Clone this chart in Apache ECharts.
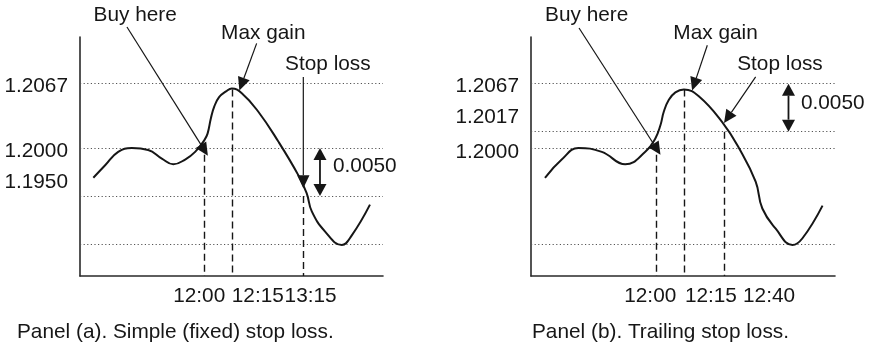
<!DOCTYPE html>
<html><head><meta charset="utf-8">
<script src="https://cdn.jsdelivr.net/npm/echarts@6/dist/echarts.min.js"></script>
<style>html,body{margin:0;padding:0;background:#fff}#c{width:869px;height:346px}</style>
</head><body><div id="c"></div>
<script>
// ---------- Panel (a): simple (fixed) stop loss ----------
const tA = [4.4, 8.3, 12.6, 17.1, 22.5, 27.0, 30.8, 34.7, 38.0, 41.0, 42.1, 43.2, 44.3, 45.9, 48.2, 50.1, 53.4, 58.8, 65.4, 72.0, 74.8, 76.5, 80.9, 86.4, 89.7, 95.7];
const priceA = [1.1969, 1.1982, 1.1996, 1.2000, 1.1998, 1.1989, 1.1983, 1.1988, 1.1996, 1.2008, 1.2015, 1.2031, 1.2043, 1.2053, 1.2059, 1.2062, 1.2057, 1.2038, 1.2007, 1.1972, 1.1953, 1.1934, 1.1913, 1.1899, 1.1909, 1.1941];
const levelsA = [1.2067, 1.2000, 1.1950, 1.1900];
const tickValuesA = [1.2067, 1.2000, 1.1950];
const tickLabelsA = ['1.2067', '1.2000', '1.1950'];
const eventTimeA = [41.0, 50.1, 73.8];
const eventPriceA = [1.1993, 1.2061, 1.1950];
const timeLabelsA = ['12:00', '12:15', '13:15'];
const calloutTextA = ['Buy here', 'Max gain', 'Stop loss'];
const calloutFromA = [[15.5, 1.2126], [58.3, 1.2109], [73.7, 1.2074]];
const calloutToA = [[42.2, 1.1992], [52.6, 1.2060], [73.7, 1.1958]];
const calloutAtA = [[18.2, 1.2138], [60.5, 1.2120], [81.8, 1.2087]];
const gapA = [79.2, 1.2000, 1.1950];
const gapAtA = [83.5, 1.1981];
const gapTextA = '0.0050';
const captionA = 'Panel (a). Simple (fixed) stop loss.';

// ---------- Panel (b): trailing stop loss ----------
const tB = [4.6, 10.1, 15.6, 23.3, 31.0, 37.6, 40.9, 42.6, 43.7, 45.3, 47.5, 50.3, 55.2, 62.9, 68.4, 73.9, 76.1, 80.5, 86.0, 89.3, 95.9];
const priceB = [1.1969, 1.1988, 1.2000, 1.1996, 1.1983, 1.1996, 1.2010, 1.2024, 1.2038, 1.2050, 1.2058, 1.2061, 1.2054, 1.2027, 1.2000, 1.1965, 1.1937, 1.1916, 1.1899, 1.1906, 1.1940];
const levelsB = [1.2067, 1.2017, 1.2000, 1.1900];
const tickValuesB = [1.2067, 1.2017, 1.2000];
const tickLabelsB = ['1.2067', '1.2017', '1.2000'];
const eventTimeB = [41.2, 50.3, 63.5];
const eventPriceB = [1.1993, 1.2061, 1.2017];
const timeLabelsB = ['12:00', '12:15', '12:40'];
const calloutTextB = ['Buy here', 'Max gain', 'Stop loss'];
const calloutFromB = [[15.8, 1.2125], [58.0, 1.2107], [73.9, 1.2074]];
const calloutToB = [[42.6, 1.1993], [53.0, 1.2060], [63.5, 1.2026]];
const calloutAtB = [[18.3, 1.2138], [60.7, 1.2120], [81.9, 1.2087]];
const gapB = [84.7, 1.2067, 1.2017];
const gapAtB = [88.8, 1.2047];
const gapTextB = '0.0050';
const captionB = 'Panel (b). Trailing stop loss.';

// ---------- styling / layout ----------
const FONT = '"Liberation Sans", Arial, Helvetica, sans-serif';
const FS = 20.8;
const INK = '#161616';
const Y_MIN = 1.18667, Y_MAX = 1.21156;
const X_MIN = 0, X_MAX = 100;
// label nudges (px) to mimic the original typesetting
const yShiftA = [3, 3, -14], yShiftB = [3, -14, 4];
const xShiftA = [-5, 26, 7], xShiftB = [-6, 27, 45];

function richH(shifts) {
  const r = {};
  shifts.forEach((d, i) => {
    r['s' + i] = { fontSize: FS, fontFamily: FONT, color: INK,
      padding: d >= 0 ? [0, 0, 0, 2 * d] : [0, -2 * d, 0, 0] };
  });
  return r;
}
function richV(shifts) {
  const r = {};
  shifts.forEach((d, i) => {
    r['s' + i] = { fontSize: FS, fontFamily: FONT, color: INK,
      padding: d >= 0 ? [2 * d, 0, 0, 0] : [0, 0, -2 * d, 0] };
  });
  return r;
}
function idxOf(arr, v) { return arr.findIndex(a => Math.abs(a - v) < 1e-7); }

function xAxisFor(gi, times, labels, shifts) {
  return {
    type: 'value', gridIndex: gi, min: X_MIN, max: X_MAX,
    axisLine: { show: true, onZero: false, lineStyle: { color: '#2a2a2a', width: 1.6 } },
    axisTick: { show: false }, splitLine: { show: false },
    axisLabel: {
      show: true, customValues: times, margin: 10,
      formatter: v => { const i = idxOf(times, v); return '{s' + i + '|' + labels[i] + '}'; },
      rich: richH(shifts)
    }
  };
}
function yAxisFor(gi, values, labels, shifts) {
  return {
    type: 'value', gridIndex: gi, min: Y_MIN, max: Y_MAX,
    axisLine: { show: true, lineStyle: { color: '#2a2a2a', width: 1.6 } },
    axisTick: { show: false }, splitLine: { show: false },
    axisLabel: {
      show: true, customValues: values, margin: 12,
      formatter: v => { const i = idxOf(values, v); return '{s' + i + '|' + labels[i] + '}'; },
      rich: richV(shifts)
    }
  };
}

function curveSeries(gi, t, p, levels, evT, evP) {
  const ml = [];
  levels.forEach(v => ml.push({ yAxis: v, lineStyle: { type: [1.2, 2.4], color: '#555', width: 1 } }));
  evT.forEach((x, i) => ml.push([
    { coord: [x, evP[i]], lineStyle: { type: [7, 4], color: INK, width: 1.4 } },
    { coord: [x, Y_MIN] }
  ]));
  return {
    type: 'line', xAxisIndex: gi, yAxisIndex: gi,
    data: t.map((x, i) => [x, p[i]]),
    smooth: 0.45, showSymbol: false, symbol: 'none', silent: true,
    lineStyle: { color: INK, width: 2 }, z: 3,
    markLine: { silent: true, symbol: 'none', precision: 8, label: { show: false }, animation: false, data: ml, z: 2 }
  };
}

function calloutSeries(gi, from, to, at, texts) {
  return {
    type: 'custom', xAxisIndex: gi, yAxisIndex: gi, clip: false, silent: true, z: 5,
    data: from.map((f, i) => [f[0], f[1], to[i][0], to[i][1], at[i][0], at[i][1]]),
    renderItem(params, api) {
      const p0 = api.coord([api.value(0), api.value(1)]);
      const p1 = api.coord([api.value(2), api.value(3)]);
      const pl = api.coord([api.value(4), api.value(5)]);
      const dx = p1[0] - p0[0], dy = p1[1] - p0[1], len = Math.hypot(dx, dy);
      const ux = dx / len, uy = dy / len, L = 13, W = 6.2;
      const bx = p1[0] - ux * L, by = p1[1] - uy * L;
      return { type: 'group', children: [
        { type: 'line', shape: { x1: p0[0], y1: p0[1], x2: bx, y2: by }, style: { stroke: INK, lineWidth: 1.2 } },
        { type: 'polygon', shape: { points: [[p1[0], p1[1]], [bx - uy * W, by + ux * W], [bx + uy * W, by - ux * W]] }, style: { fill: INK } },
        { type: 'text', x: pl[0], y: pl[1], style: { text: texts[params.dataIndex], fill: INK, fontSize: FS, fontFamily: FONT, align: 'center', verticalAlign: 'middle' } }
      ] };
    }
  };
}

function gapSeries(gi, gap, at, text) {
  return {
    type: 'custom', xAxisIndex: gi, yAxisIndex: gi, clip: false, silent: true, z: 5,
    data: [[gap[0], gap[1], gap[2], at[0], at[1]]],
    renderItem(params, api) {
      const a = api.coord([api.value(0), api.value(1)]);
      const b = api.coord([api.value(0), api.value(2)]);
      const l = api.coord([api.value(3), api.value(4)]);
      const L = 12, W = 6.5;
      return { type: 'group', children: [
        { type: 'line', shape: { x1: a[0], y1: a[1] + L, x2: b[0], y2: b[1] - L }, style: { stroke: INK, lineWidth: 1.8 } },
        { type: 'polygon', shape: { points: [[a[0], a[1]], [a[0] - W, a[1] + L], [a[0] + W, a[1] + L]] }, style: { fill: INK } },
        { type: 'polygon', shape: { points: [[b[0], b[1]], [b[0] - W, b[1] - L], [b[0] + W, b[1] - L]] }, style: { fill: INK } },
        { type: 'text', x: l[0], y: l[1], style: { text: text, fill: INK, fontSize: FS, fontFamily: FONT, align: 'left', verticalAlign: 'middle' } }
      ] };
    }
  };
}

const chart = echarts.init(document.getElementById('c'), null, { renderer: 'canvas' });
chart.setOption({
  animation: false,
  backgroundColor: '#fff',
  textStyle: { fontFamily: FONT, color: INK },
  grid: [
    { left: 80, top: 37, width: 303, height: 239, containLabel: false },
    { left: 531, top: 37, width: 304, height: 239, containLabel: false }
  ],
  xAxis: [xAxisFor(0, eventTimeA, timeLabelsA, xShiftA), xAxisFor(1, eventTimeB, timeLabelsB, xShiftB)],
  yAxis: [yAxisFor(0, tickValuesA, tickLabelsA, yShiftA), yAxisFor(1, tickValuesB, tickLabelsB, yShiftB)],
  series: [
    curveSeries(0, tA, priceA, levelsA, eventTimeA, eventPriceA),
    calloutSeries(0, calloutFromA, calloutToA, calloutAtA, calloutTextA),
    gapSeries(0, gapA, gapAtA, gapTextA),
    curveSeries(1, tB, priceB, levelsB, eventTimeB, eventPriceB),
    calloutSeries(1, calloutFromB, calloutToB, calloutAtB, calloutTextB),
    gapSeries(1, gapB, gapAtB, gapTextB)
  ],
  graphic: [
    { type: 'text', x: 17, y: 332, style: { text: captionA, fill: INK, fontSize: FS, fontFamily: FONT, verticalAlign: 'middle' } },
    { type: 'text', x: 532, y: 332, style: { text: captionB, fill: INK, fontSize: FS, fontFamily: FONT, verticalAlign: 'middle' } }
  ]
});
</script>
</body></html>
